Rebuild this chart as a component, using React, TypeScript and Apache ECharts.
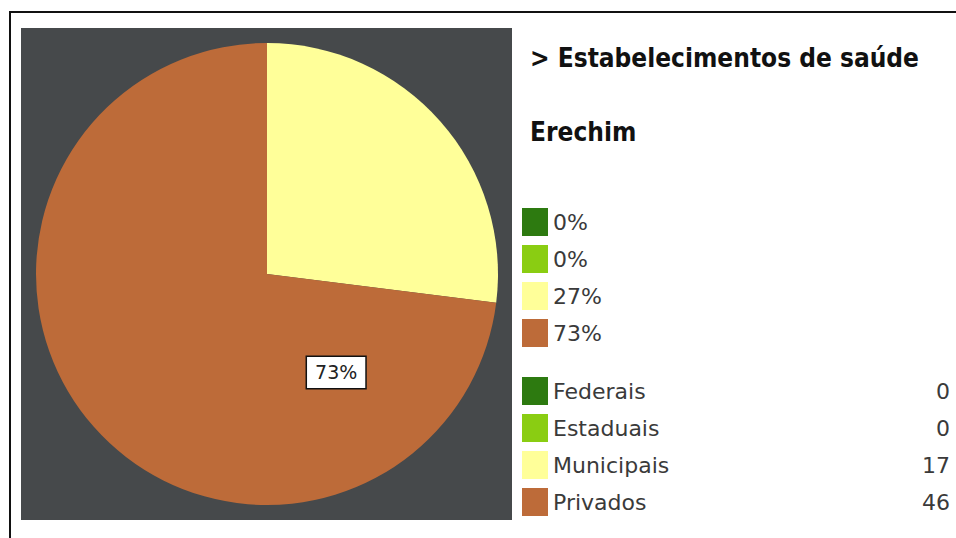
import React, { useEffect, useRef } from "react";
import * as echarts from "echarts";

const categories = ["Federais", "Estaduais", "Municipais", "Privados"];
const values = [0, 0, 17, 46];
const colors = ["#2d7a10", "#8acd12", "#ffff99", "#bd6b39"];
const titleText = "> Estabelecimentos de saúde";
const subtitleText = "Erechim";

export default function App() {
  const ref = useRef<HTMLDivElement>(null);
  useEffect(() => {
    if (!ref.current) return;
    const chart = echarts.init(ref.current, null, { renderer: "svg" });
    const total = values.reduce((a, b) => a + b, 0);
    const pct = (name: string) => {
      const i = categories.indexOf(name);
      return Math.round((values[i] / total) * 100) + "%";
    };
    const valOf = (name: string) => values[categories.indexOf(name)];
    const textStyle = { fontFamily: "DejaVu Sans", fontSize: 22, color: "#3a3a3a" };
    const titleStyle = {
      fontFamily: "Liberation Sans Narrow, DejaVu Sans Condensed",
      fontWeight: "bold",
      fontSize: 26,
      color: "#111",
    };
    chart.setOption({
      animation: false,
      backgroundColor: "#ffffff",
      title: [
        { text: titleText, left: 530, top: 45, padding: 0, textStyle: titleStyle },
        { text: subtitleText, left: 530, top: 119, padding: 0, textStyle: titleStyle },
      ],
      graphic: [
        { type: "rect", shape: { x: 10, y: 12, width: 980, height: 560 }, style: { fill: "none", stroke: "#111", lineWidth: 2 }, z: -10 },
        { type: "rect", shape: { x: 21, y: 28, width: 491, height: 492 }, style: { fill: "#46494b" }, z: -10 },
      ],
      legend: [
        {
          data: categories,
          orient: "vertical",
          left: 522,
          top: 208,
          padding: 0,
          icon: "rect",
          itemWidth: 26,
          itemHeight: 28,
          itemGap: 9,
          formatter: (name: string) => pct(name),
          textStyle,
          selectedMode: false,
        },
        {
          data: categories,
          orient: "vertical",
          left: 522,
          top: 377,
          padding: 0,
          icon: "rect",
          itemWidth: 26,
          itemHeight: 28,
          itemGap: 9,
          formatter: (name: string) => `{n|${name}}{v|${valOf(name)}}`,
          textStyle: {
            ...textStyle,
            rich: {
              n: { ...textStyle, width: 357 },
              v: { ...textStyle, width: 40, align: "right" },
            },
          },
          selectedMode: false,
        },
      ],
      series: [
        {
          type: "pie",
          center: [267, 274],
          radius: [0, 231],
          startAngle: 90,
          clockwise: true,
          avoidLabelOverlap: false,
          labelLine: { show: false },
          data: categories.map((c, i) => ({
            name: c,
            value: values[i],
            itemStyle: { color: colors[i] },
            label:
              c === "Privados"
                ? {
                    show: true,
                    position: "inside",
                    offset: [158, 20],
                    formatter: () => pct(c),
                    backgroundColor: "#ffffff",
                    borderColor: "#111",
                    borderWidth: 1.5,
                    padding: [7, 8, 5, 8],
                    fontFamily: "DejaVu Sans",
                    fontSize: 19,
                    color: "#222",
                  }
                : { show: false },
          })),
        },
      ],
    });
    return () => chart.dispose();
  }, []);
  return <div ref={ref} style={{ position: "absolute", left: 0, top: 0, width: 956, height: 538 }} />;
}
